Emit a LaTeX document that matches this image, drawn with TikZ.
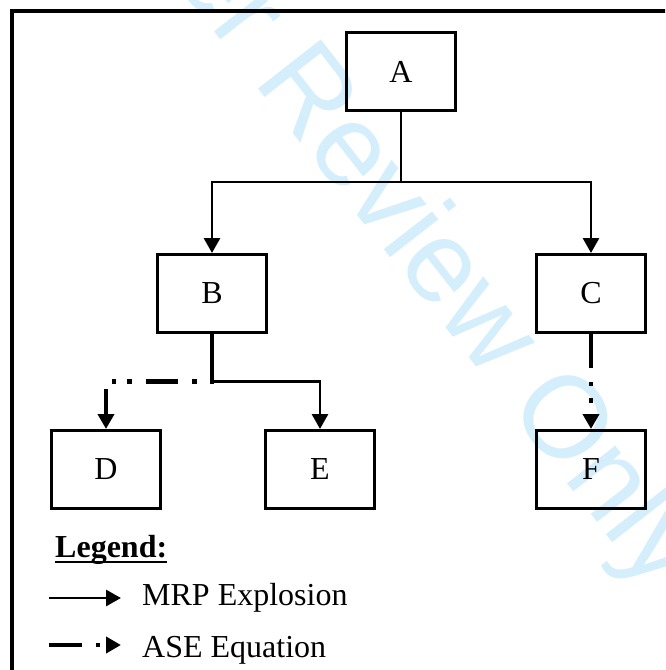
\documentclass[tikz,border=0pt]{standalone}
\usepackage{fontspec}
\setmainfont{Liberation Serif}
\newfontfamily\wmfont{Liberation Sans}
\usetikzlibrary{arrows.meta}
\definecolor{wmblue}{RGB}{212,238,251}

\begin{document}
\begin{tikzpicture}[x=1pt,y=-1pt,
  box/.style={draw,line width=3pt,minimum width=109pt,minimum height=78pt,
    inner sep=0pt,font=\fontsize{32}{38}\selectfont},
  tip/.style={-{Triangle[width=16pt,length=15pt]}},
  mrp/.style={tip,line width=2.9pt},
  ase/.style={tip,line width=4.5pt},
  lbl/.style={anchor=base west,inner sep=0pt,font=\fontsize{32}{38}\selectfont},
]
\useasboundingbox (0,0) rectangle (665,670);

\begin{scope}
  \clip (0,0) rectangle (665,670);
  % watermark
  \node[anchor=base west,inner sep=0pt,rotate=-52,text=wmblue,
        font=\wmfont\fontsize{116}{116}\selectfont] (wm) at (-45,-300)
        {For Peer Review Only};
  % outer frame
  \draw[line width=4pt] (11.5,11) rectangle (720,720);
\end{scope}

% boxes
\node[box] (A) at (401,71.5)  {A};
\node[box] (B) at (212,293.5) {B};
\node[box] (C) at (591,293.5) {C};
\node[box] (D) at (106,469.5) {D};
\node[box] (E) at (320,469.5) {E};
\node[box] (F) at (591,469.5) {F};

% junctions
\coordinate (jA) at (401,182);
\coordinate (jB) at (212,381.5);

% MRP explosion connectors
\draw[mrp] (A.south) -- (jA) -| (B.north);
\draw[mrp] (jA) -| (C.north);
\draw[mrp] (B.south) -- (jB) -| (E.north);

% ASE equation connectors
\draw[ase,dash pattern=on 49.5pt off 13pt on 5pt off 14pt on 32pt off 14pt on 5pt off 11pt on 4pt off 13.5pt on 60pt]
  (B.south) -- (jB) -| (D.north);
\draw[ase,dash pattern=on 34pt off 14pt on 4pt off 12pt on 5pt off 40pt]
  (C.south) -- (F.north);

% legend
\node[lbl,font=\bfseries\fontsize{32}{38}\selectfont] (leg) at (55,557) {Legend:};
\draw[line width=1.8pt] ([yshift=-5pt]leg.base west) -- ([yshift=-5pt]leg.base east);

\coordinate (m1) at (49,598);
\coordinate (m2) at (121,598);
\draw[mrp] (m1) -- (m2);
\node[lbl] (mrpt) at (142,605) {MRP Explosion};

\coordinate (a1) at (49,645);
\coordinate (a2) at (121,645);
\draw[ase,dash pattern=on 33pt off 14pt on 4pt off 30pt] (a1) -- (a2);
\node[lbl] (aset) at (142,657) {ASE Equation};
\end{tikzpicture}
\end{document}
